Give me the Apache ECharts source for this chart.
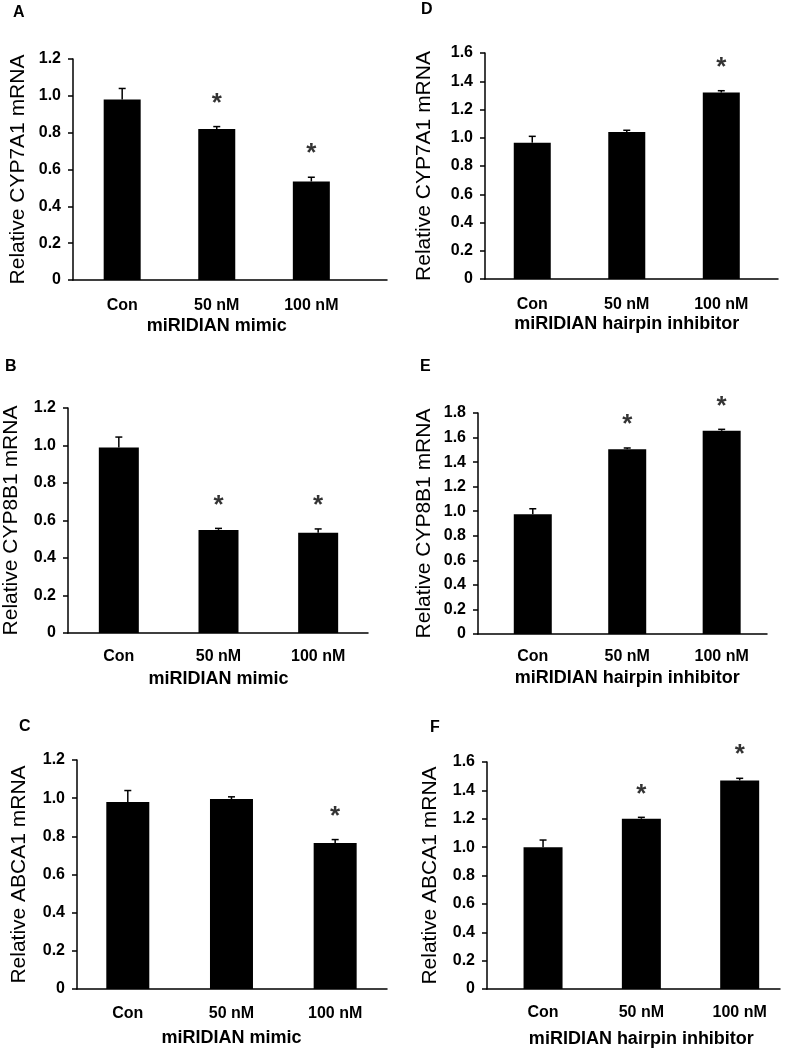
<!DOCTYPE html>
<html>
<head>
<meta charset="utf-8">
<script src="https://cdn.jsdelivr.net/npm/echarts@6/dist/echarts.min.js"></script>
<style>
html,body{margin:0;padding:0;background:#fff;}
#chart{width:790px;height:1050px;}
</style>
</head>
<body>
<div id="chart"></div>
<script>
// ---- data ----
const categories = ['Con', '50 nM', '100 nM'];

const meanA = [0.98, 0.82, 0.535];
const errA  = [0.06, 0.013, 0.023];
const sigA  = [false, true, true];

const meanB = [0.99, 0.55, 0.535];
const errB  = [0.055, 0.008, 0.02];
const sigB  = [false, true, true];

const meanC = [0.98, 0.995, 0.765];
const errC  = [0.06, 0.012, 0.018];
const sigC  = [false, false, true];

const meanD = [0.965, 1.04, 1.32];
const errD  = [0.045, 0.013, 0.013];
const sigD  = [false, false, true];

const meanE = [0.975, 1.505, 1.655];
const errE  = [0.045, 0.01, 0.012];
const sigE  = [false, true, true];

const meanF = [1.0, 1.2, 1.47];
const errF  = [0.05, 0.01, 0.015];
const sigF  = [false, true, true];

const yMax = { A: 1.2, B: 1.2, C: 1.2, D: 1.6, E: 1.8, F: 1.6 };
const yTitles = {
  A: 'Relative CYP7A1 mRNA', B: 'Relative CYP8B1 mRNA', C: 'Relative ABCA1 mRNA',
  D: 'Relative CYP7A1 mRNA', E: 'Relative CYP8B1 mRNA', F: 'Relative ABCA1 mRNA'
};
const xTitles = {
  A: 'miRIDIAN mimic', B: 'miRIDIAN mimic', C: 'miRIDIAN mimic',
  D: 'miRIDIAN hairpin inhibitor', E: 'miRIDIAN hairpin inhibitor', F: 'miRIDIAN hairpin inhibitor'
};
const panelData = {
  A: [meanA, errA, sigA], B: [meanB, errB, sigB], C: [meanC, errC, sigC],
  D: [meanD, errD, sigD], E: [meanE, errE, sigE], F: [meanF, errF, sigF]
};

// ---- layout (positions / sizes) ----
const FONT = "'Liberation Sans', Arial, sans-serif";
const layout = {
  A: { left: 73,  top: 59,  right: 403, bottom: 770, xmin: -0.52, xmax: 2.80, bw: 37, lab: [13, 5],   catGap: 18, titleGap: 37, yGap: 44 },
  D: { left: 485, top: 53,  right: 12,  bottom: 771, xmin: -0.50, xmax: 2.60, bw: 37, lab: [421, 2],  catGap: 18, titleGap: 36, yGap: 50 },
  B: { left: 68,  top: 408, right: 422, bottom: 417, xmin: -0.51, xmax: 2.50, bw: 40, lab: [5, 359],  catGap: 16, titleGap: 37, yGap: 46 },
  E: { left: 478, top: 413, right: 23,  bottom: 416, xmin: -0.58, xmax: 2.48, bw: 38, lab: [420, 359],catGap: 15, titleGap: 35, yGap: 43 },
  C: { left: 77,  top: 760, right: 403, bottom: 61,  xmin: -0.49, xmax: 2.50, bw: 43, lab: [19, 719], catGap: 17, titleGap: 40, yGap: 47 },
  F: { left: 487, top: 762, right: 10,  bottom: 61,  xmin: -0.57, xmax: 2.41, bw: 39, lab: [430, 720],catGap: 16, titleGap: 41, yGap: 46 }
};

const keys = ['A', 'B', 'C', 'D', 'E', 'F'];
const grids = [], xAxes = [], yAxes = [], series = [], titles = [];

keys.forEach((k, i) => {
  const L = layout[k];
  const [mean, err, sig] = panelData[k];
  grids.push({ left: L.left, top: L.top, right: L.right, bottom: L.bottom, containLabel: false });

  // shift axis name so that it is centred on the middle category
  const width = 790 - L.left - L.right;
  const unit = width / (L.xmax - L.xmin);
  const shift = (1 - (L.xmin + L.xmax) / 2) * unit;
  const pad = shift >= 0 ? [0, 0, 0, 2 * shift] : [0, -2 * shift, 0, 0];

  xAxes.push({
    type: 'value', gridIndex: i, min: L.xmin, max: L.xmax,
    splitLine: { show: false },
    axisLine: { show: true, onZero: false, lineStyle: { color: '#000', width: 1.5 } },
    axisTick: { show: false },
    axisLabel: {
      customValues: [0, 1, 2],
      formatter: v => categories[Math.round(v)],
      color: '#000', fontFamily: FONT, fontWeight: 'bold', fontSize: 16, margin: L.catGap
    },
    name: xTitles[k], nameLocation: 'middle', nameGap: L.titleGap,
    nameTextStyle: { color: '#000', fontFamily: FONT, fontWeight: 'bold', fontSize: 18, padding: pad }
  });
  yAxes.push({
    type: 'value', gridIndex: i, min: 0, max: yMax[k], interval: 0.2,
    splitLine: { show: false },
    axisLine: { show: true, onZero: false, lineStyle: { color: '#000', width: 1.5 } },
    axisTick: { show: true, inside: false, length: 5, lineStyle: { color: '#000', width: 1.5 } },
    axisLabel: {
      formatter: v => (v === 0 ? '0' : v.toFixed(1)),
      color: '#000', fontFamily: FONT, fontWeight: 'bold', fontSize: 16, margin: 12
    },
    name: yTitles[k], nameLocation: 'middle', nameGap: L.yGap,
    nameTextStyle: { color: '#000', fontFamily: FONT, fontSize: 21 }
  });

  series.push({
    type: 'bar', xAxisIndex: i, yAxisIndex: i, barWidth: L.bw,
    itemStyle: { color: '#000' },
    data: mean.map((m, j) => [j, m]),
    silent: true
  });
  series.push({
    type: 'custom', xAxisIndex: i, yAxisIndex: i,
    data: mean.map((m, j) => [j, m, err[j]]),
    renderItem: (params, api) => {
      const x = api.value(0), m = api.value(1), e = api.value(2);
      const p0 = api.coord([x, m]);
      const p1 = api.coord([x, m + e]);
      const style = { stroke: '#000', lineWidth: 1.5 };
      return {
        type: 'group',
        children: [
          { type: 'line', shape: { x1: p0[0], y1: p0[1], x2: p1[0], y2: p1[1] }, style },
          { type: 'line', shape: { x1: p1[0] - 3.5, y1: p1[1], x2: p1[0] + 3.5, y2: p1[1] }, style }
        ]
      };
    },
    silent: true, z: 3
  });
  series.push({
    type: 'scatter', xAxisIndex: i, yAxisIndex: i, symbolSize: 0,
    data: mean.map((m, j) => [j, m + err[j]]).filter((d, j) => sig[j]),
    label: {
      show: true, position: 'top', distance: 10, formatter: '*',
      color: '#000', fontFamily: FONT, fontWeight: 'bold', fontSize: 26
    },
    silent: true
  });

  titles.push({
    text: k, left: L.lab[0], top: L.lab[1], padding: 0,
    textStyle: { color: '#000', fontFamily: FONT, fontWeight: 'bold', fontSize: 16 }
  });
});

const chart = echarts.init(document.getElementById('chart'), null, { renderer: 'canvas' });
chart.setOption({
  animation: false,
  backgroundColor: '#fff',
  title: titles,
  grid: grids,
  xAxis: xAxes,
  yAxis: yAxes,
  series: series
});
</script>
</body>
</html>
